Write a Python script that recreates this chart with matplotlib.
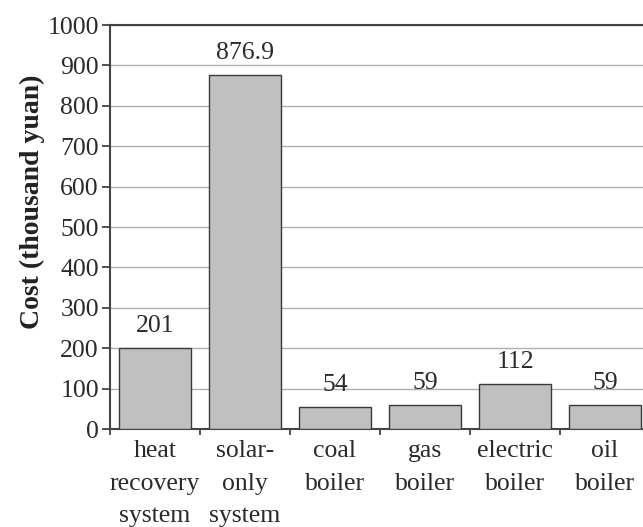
import numpy as np
import matplotlib.pyplot as plt

categories = ["heat\nrecovery\nsystem", "solar-\nonly\nsystem", "coal\nboiler",
              "gas\nboiler", "electric\nboiler", "oil\nboiler"]
costs = [201, 876.9, 54, 59, 112, 59]
value_labels = ["201", "876.9", "54", "59", "112", "59"]

plt.rcParams['font.family'] = ['Liberation Serif', 'DejaVu Serif']

fig = plt.figure(figsize=(6.43, 5.27), dpi=100)
# axes run slightly past the right edge of the canvas
ax = fig.add_axes([110 / 643, 1 - 429 / 527, 540 / 643, 404 / 527])

x = np.arange(len(categories))
bars = ax.bar(x, costs, width=0.8, color="#c0c0c0", edgecolor="#3a3a3a",
              linewidth=1.0, zorder=3)

for xi, v, lab in zip(x, costs, value_labels):
    ax.annotate(lab, (xi, v), xytext=(0, 8), textcoords="offset points",
                ha="center", va="bottom", fontsize=18.5, color="#2a2a2a")

ax.set_xlim(-0.5, len(categories) - 0.5)
ax.set_ylim(0, 1000)
ax.set_yticks(np.arange(0, 1001, 100))
ax.yaxis.grid(True, color="#b0b0b0", linewidth=1.0, zorder=0)
ax.set_axisbelow(True)

ax.set_xticks(x)
ax.set_xticklabels(categories, fontsize=18.5, linespacing=1.62, color="#2a2a2a")
ax.tick_params(axis="x", which="major", length=0, pad=8)
ax.set_xticks(np.arange(-0.5, len(categories), 1), minor=True)
ax.tick_params(axis="x", which="minor", length=4, width=1.2, color="#333333")
ax.tick_params(axis="y", length=6, width=1.2, color="#333333",
               labelsize=18.5, labelcolor="#2a2a2a", pad=2)

for side in ["left", "bottom", "top"]:
    ax.spines[side].set_color("#444444")
    ax.spines[side].set_linewidth(1.5)
ax.spines["right"].set_visible(False)

ax.set_ylabel("Cost (thousand yuan)", fontsize=20, fontweight="bold",
              color="#222222")
ax.yaxis.set_label_coords(-0.12, 0.562)

fig.savefig("out.png", dpi=100)
